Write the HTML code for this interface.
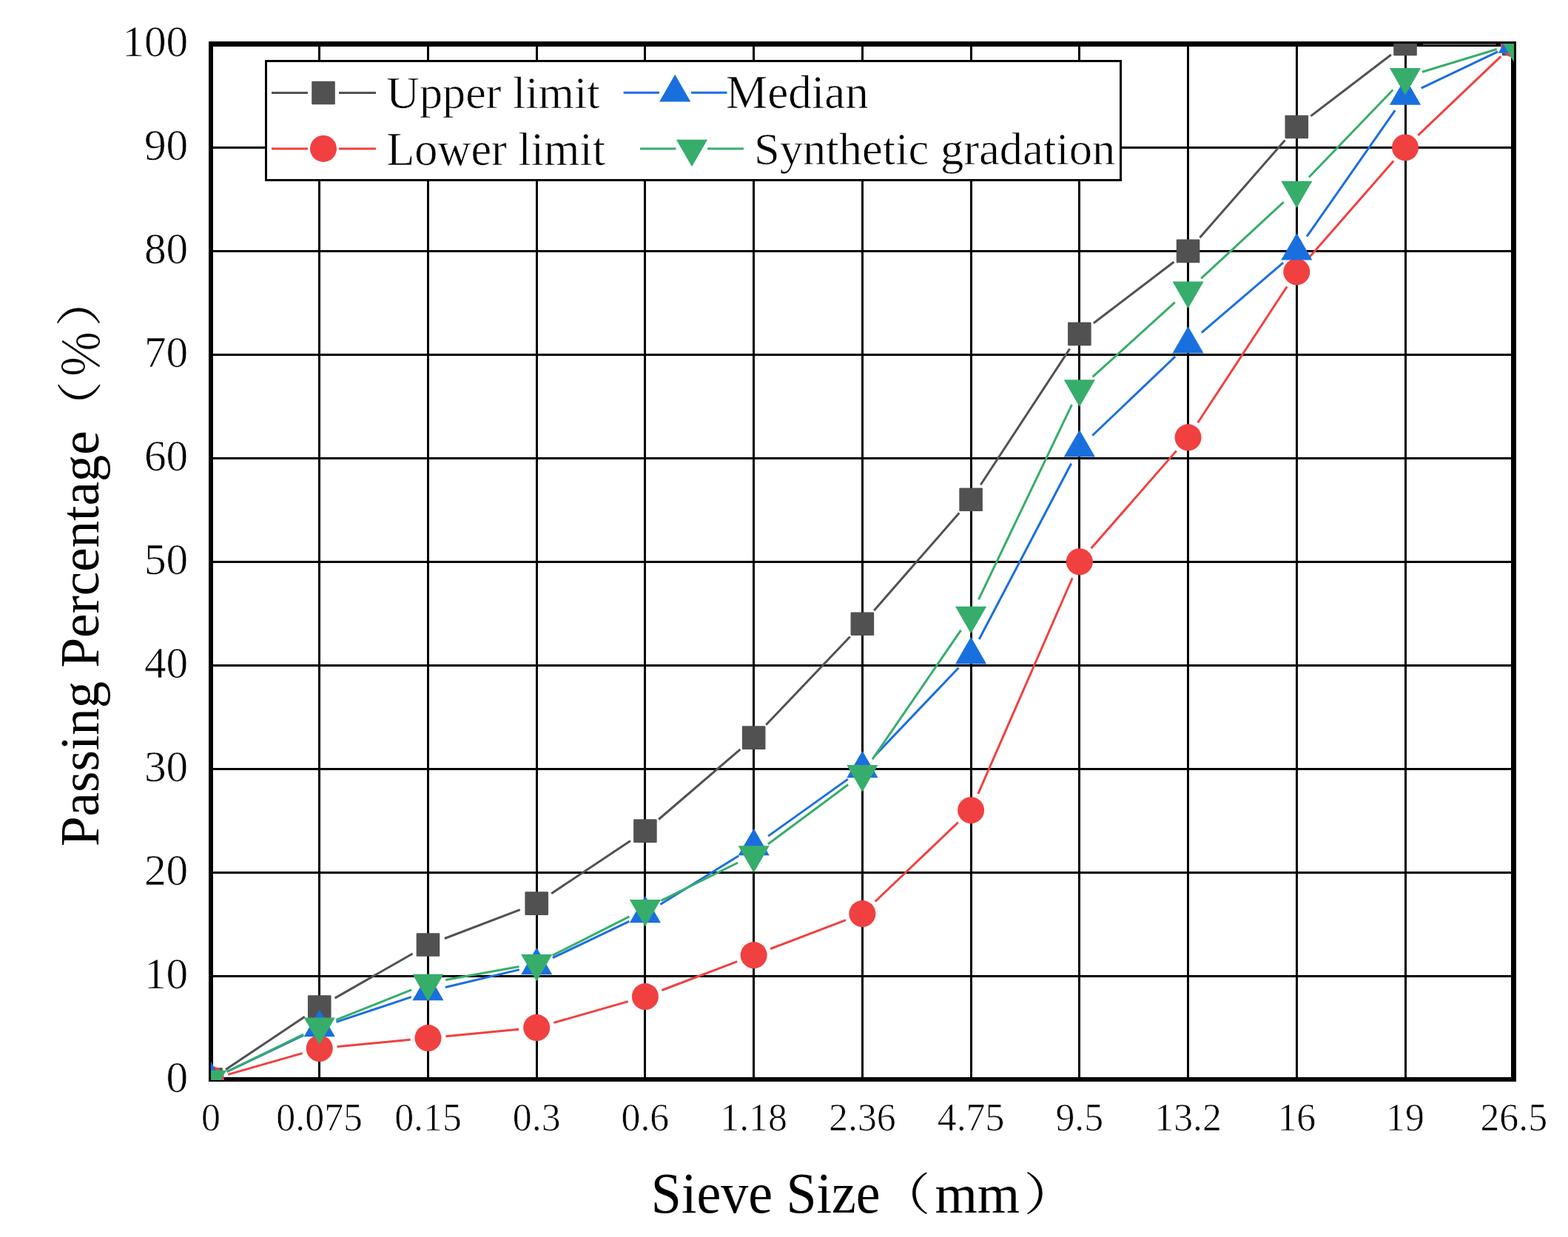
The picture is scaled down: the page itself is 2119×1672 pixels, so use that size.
<!DOCTYPE html>
<html><head><meta charset="utf-8"><title>Gradation curve</title>
<style>html,body{margin:0;padding:0;background:#fff;}svg{display:block;}</style></head>
<body>
<svg width="2119" height="1672" viewBox="0 0 2119 1672">
<defs><clipPath id="pc"><rect x="285" y="59" width="1761" height="1401"/></clipPath></defs>
<rect width="2119" height="1672" fill="#fff"/>
<g fill="#000" shape-rendering="crispEdges"><rect x="430" y="62" width="3" height="1395"/>
<rect x="577" y="62" width="3" height="1395"/>
<rect x="724" y="62" width="3" height="1395"/>
<rect x="870" y="62" width="3" height="1395"/>
<rect x="1017" y="62" width="3" height="1395"/>
<rect x="1164" y="62" width="3" height="1395"/>
<rect x="1311" y="62" width="3" height="1395"/>
<rect x="1457" y="62" width="3" height="1395"/>
<rect x="1604" y="62" width="3" height="1395"/>
<rect x="1751" y="62" width="3" height="1395"/>
<rect x="1898" y="62" width="3" height="1395"/>
<rect x="287" y="1318" width="1756" height="3"/>
<rect x="287" y="1178" width="1756" height="3"/>
<rect x="287" y="1038" width="1756" height="3"/>
<rect x="287" y="898" width="1756" height="3"/>
<rect x="287" y="758" width="1756" height="3"/>
<rect x="287" y="618" width="1756" height="3"/>
<rect x="287" y="478" width="1756" height="3"/>
<rect x="287" y="338" width="1756" height="3"/>
<rect x="287" y="198" width="1756" height="3"/></g>
<g fill="#000" shape-rendering="crispEdges"><rect x="282" y="56" width="6" height="1406"/><rect x="282" y="56" width="1767" height="7"/><rect x="2042" y="56" width="7" height="1406"/><rect x="282" y="1456" width="1767" height="6"/></g>
<g clip-path="url(#pc)"><line x1="304.96" y1="1445.67" x2="411.77" y2="1374.36" stroke="#515151" stroke-width="3"/>
<line x1="452.56" y1="1349.11" x2="557.63" y2="1288.99" stroke="#515151" stroke-width="3"/>
<line x1="600.88" y1="1268.51" x2="702.77" y2="1229.64" stroke="#515151" stroke-width="3"/>
<line x1="745.15" y1="1207.76" x2="851.96" y2="1136.45" stroke="#515151" stroke-width="3"/>
<line x1="890.13" y1="1107.49" x2="1000.44" y2="1012.80" stroke="#515151" stroke-width="3"/>
<line x1="1035.21" y1="979.79" x2="1148.82" y2="860.59" stroke="#515151" stroke-width="3"/>
<line x1="1181.17" y1="825.15" x2="1296.32" y2="693.35" stroke="#515151" stroke-width="3"/>
<line x1="1325.26" y1="655.21" x2="1445.69" y2="471.43" stroke="#515151" stroke-width="3"/>
<line x1="1477.92" y1="436.80" x2="1586.49" y2="353.96" stroke="#515151" stroke-width="3"/>
<line x1="1621.36" y1="321.33" x2="1736.51" y2="189.53" stroke="#515151" stroke-width="3"/>
<line x1="1771.38" y1="156.90" x2="1879.95" y2="74.06" stroke="#515151" stroke-width="3"/>
<line x1="1923.03" y1="59.50" x2="2021.76" y2="59.50" stroke="#515151" stroke-width="3"/>
<line x1="308.07" y1="1452.40" x2="408.66" y2="1423.62" stroke="#F14040" stroke-width="3"/>
<line x1="455.62" y1="1414.74" x2="554.57" y2="1405.30" stroke="#F14040" stroke-width="3"/>
<line x1="602.35" y1="1400.74" x2="701.30" y2="1391.30" stroke="#F14040" stroke-width="3"/>
<line x1="748.26" y1="1382.42" x2="848.85" y2="1353.64" stroke="#F14040" stroke-width="3"/>
<line x1="894.34" y1="1338.49" x2="996.23" y2="1299.61" stroke="#F14040" stroke-width="3"/>
<line x1="1041.07" y1="1282.51" x2="1142.96" y2="1243.63" stroke="#F14040" stroke-width="3"/>
<line x1="1182.75" y1="1218.52" x2="1294.74" y2="1111.69" stroke="#F14040" stroke-width="3"/>
<line x1="1321.72" y1="1073.14" x2="1449.23" y2="781.24" stroke="#F14040" stroke-width="3"/>
<line x1="1474.63" y1="741.18" x2="1589.78" y2="609.38" stroke="#F14040" stroke-width="3"/>
<line x1="1618.72" y1="571.24" x2="1739.15" y2="387.46" stroke="#F14040" stroke-width="3"/>
<line x1="1768.09" y1="349.32" x2="1883.24" y2="217.52" stroke="#F14040" stroke-width="3"/>
<line x1="1916.40" y1="182.89" x2="2028.39" y2="76.06" stroke="#F14040" stroke-width="3"/>
<line x1="306.66" y1="1448.67" x2="410.07" y2="1399.36" stroke="#1A6FDF" stroke-width="3"/>
<line x1="454.50" y1="1381.43" x2="555.69" y2="1347.64" stroke="#1A6FDF" stroke-width="3"/>
<line x1="601.81" y1="1334.48" x2="701.84" y2="1310.62" stroke="#1A6FDF" stroke-width="3"/>
<line x1="746.85" y1="1294.72" x2="850.26" y2="1245.41" stroke="#1A6FDF" stroke-width="3"/>
<line x1="892.32" y1="1222.43" x2="998.25" y2="1156.76" stroke="#1A6FDF" stroke-width="3"/>
<line x1="1038.17" y1="1130.15" x2="1145.86" y2="1053.11" stroke="#1A6FDF" stroke-width="3"/>
<line x1="1181.94" y1="1021.78" x2="1295.55" y2="902.58" stroke="#1A6FDF" stroke-width="3"/>
<line x1="1323.25" y1="863.95" x2="1447.70" y2="626.56" stroke="#1A6FDF" stroke-width="3"/>
<line x1="1476.21" y1="588.74" x2="1588.20" y2="481.92" stroke="#1A6FDF" stroke-width="3"/>
<line x1="1623.78" y1="449.72" x2="1734.09" y2="355.03" stroke="#1A6FDF" stroke-width="3"/>
<line x1="1766.05" y1="319.73" x2="1885.28" y2="149.15" stroke="#1A6FDF" stroke-width="3"/>
<line x1="1920.69" y1="119.14" x2="2024.10" y2="69.83" stroke="#1A6FDF" stroke-width="3"/>
<line x1="306.58" y1="1448.50" x2="410.15" y2="1398.12" stroke="#37AD6B" stroke-width="3"/>
<line x1="454.01" y1="1378.70" x2="556.18" y2="1337.77" stroke="#37AD6B" stroke-width="3"/>
<line x1="602.08" y1="1324.57" x2="701.57" y2="1306.54" stroke="#37AD6B" stroke-width="3"/>
<line x1="746.61" y1="1291.43" x2="850.50" y2="1238.91" stroke="#37AD6B" stroke-width="3"/>
<line x1="893.42" y1="1217.42" x2="997.15" y2="1165.97" stroke="#37AD6B" stroke-width="3"/>
<line x1="1037.91" y1="1140.98" x2="1146.12" y2="1060.47" stroke="#37AD6B" stroke-width="3"/>
<line x1="1178.95" y1="1026.35" x2="1298.54" y2="851.82" stroke="#37AD6B" stroke-width="3"/>
<line x1="1322.47" y1="810.38" x2="1448.48" y2="547.18" stroke="#37AD6B" stroke-width="3"/>
<line x1="1476.62" y1="509.42" x2="1587.79" y2="408.70" stroke="#37AD6B" stroke-width="3"/>
<line x1="1623.19" y1="376.28" x2="1734.68" y2="273.13" stroke="#37AD6B" stroke-width="3"/>
<line x1="1768.94" y1="239.53" x2="1882.39" y2="121.58" stroke="#37AD6B" stroke-width="3"/>
<line x1="1921.98" y1="97.28" x2="2022.81" y2="66.51" stroke="#37AD6B" stroke-width="3"/>
<rect x="269.20" y="1443.20" width="31.6" height="31.6" rx="1.2" fill="#515151"/>
<rect x="415.93" y="1345.24" width="31.6" height="31.6" rx="1.2" fill="#515151"/>
<rect x="562.66" y="1261.27" width="31.6" height="31.6" rx="1.2" fill="#515151"/>
<rect x="709.39" y="1205.29" width="31.6" height="31.6" rx="1.2" fill="#515151"/>
<rect x="856.12" y="1107.32" width="31.6" height="31.6" rx="1.2" fill="#515151"/>
<rect x="1002.85" y="981.37" width="31.6" height="31.6" rx="1.2" fill="#515151"/>
<rect x="1149.58" y="827.42" width="31.6" height="31.6" rx="1.2" fill="#515151"/>
<rect x="1296.31" y="659.48" width="31.6" height="31.6" rx="1.2" fill="#515151"/>
<rect x="1443.04" y="435.56" width="31.6" height="31.6" rx="1.2" fill="#515151"/>
<rect x="1589.77" y="323.60" width="31.6" height="31.6" rx="1.2" fill="#515151"/>
<rect x="1736.50" y="155.66" width="31.6" height="31.6" rx="1.2" fill="#515151"/>
<rect x="1883.23" y="43.70" width="31.6" height="31.6" rx="1.2" fill="#515151"/>
<rect x="2029.96" y="43.70" width="31.6" height="31.6" rx="1.2" fill="#515151"/>
<circle cx="285.00" cy="1459.00" r="18" fill="#F14040"/>
<circle cx="431.73" cy="1417.02" r="18" fill="#F14040"/>
<circle cx="578.46" cy="1403.02" r="18" fill="#F14040"/>
<circle cx="725.19" cy="1389.03" r="18" fill="#F14040"/>
<circle cx="871.92" cy="1347.04" r="18" fill="#F14040"/>
<circle cx="1018.65" cy="1291.06" r="18" fill="#F14040"/>
<circle cx="1165.38" cy="1235.08" r="18" fill="#F14040"/>
<circle cx="1312.11" cy="1095.13" r="18" fill="#F14040"/>
<circle cx="1458.84" cy="759.25" r="18" fill="#F14040"/>
<circle cx="1605.57" cy="591.31" r="18" fill="#F14040"/>
<circle cx="1752.30" cy="367.39" r="18" fill="#F14040"/>
<circle cx="1899.03" cy="199.45" r="18" fill="#F14040"/>
<circle cx="2045.76" cy="59.50" r="18" fill="#F14040"/>
<polygon points="285.00,1434.64 306.10,1471.18 263.90,1471.18" fill="#1A6FDF"/>
<polygon points="431.73,1364.66 452.83,1401.21 410.63,1401.21" fill="#1A6FDF"/>
<polygon points="578.46,1315.68 599.56,1352.22 557.36,1352.22" fill="#1A6FDF"/>
<polygon points="725.19,1280.69 746.29,1317.24 704.09,1317.24" fill="#1A6FDF"/>
<polygon points="871.92,1210.72 893.02,1247.26 850.82,1247.26" fill="#1A6FDF"/>
<polygon points="1018.65,1119.75 1039.75,1156.29 997.55,1156.29" fill="#1A6FDF"/>
<polygon points="1165.38,1014.79 1186.48,1051.33 1144.28,1051.33" fill="#1A6FDF"/>
<polygon points="1312.11,860.84 1333.21,897.39 1291.01,897.39" fill="#1A6FDF"/>
<polygon points="1458.84,580.94 1479.94,617.49 1437.74,617.49" fill="#1A6FDF"/>
<polygon points="1605.57,440.99 1626.67,477.54 1584.47,477.54" fill="#1A6FDF"/>
<polygon points="1752.30,315.04 1773.40,351.58 1731.20,351.58" fill="#1A6FDF"/>
<polygon points="1899.03,105.11 1920.13,141.66 1877.93,141.66" fill="#1A6FDF"/>
<polygon points="2045.76,35.14 2066.86,71.68 2024.66,71.68" fill="#1A6FDF"/>
<polygon points="285.00,1483.36 306.10,1446.82 263.90,1446.82" fill="#37AD6B"/>
<polygon points="431.73,1411.99 452.83,1375.44 410.63,1375.44" fill="#37AD6B"/>
<polygon points="578.46,1353.21 599.56,1316.66 557.36,1316.66" fill="#37AD6B"/>
<polygon points="725.19,1326.62 746.29,1290.07 704.09,1290.07" fill="#37AD6B"/>
<polygon points="871.92,1252.45 893.02,1215.90 850.82,1215.90" fill="#37AD6B"/>
<polygon points="1018.65,1179.67 1039.75,1143.13 997.55,1143.13" fill="#37AD6B"/>
<polygon points="1165.38,1070.51 1186.48,1033.97 1144.28,1033.97" fill="#37AD6B"/>
<polygon points="1312.11,856.39 1333.21,819.84 1291.01,819.84" fill="#37AD6B"/>
<polygon points="1458.84,549.90 1479.94,513.35 1437.74,513.35" fill="#37AD6B"/>
<polygon points="1605.57,416.95 1626.67,380.40 1584.47,380.40" fill="#37AD6B"/>
<polygon points="1752.30,281.19 1773.40,244.65 1731.20,244.65" fill="#37AD6B"/>
<polygon points="1899.03,128.65 1920.13,92.10 1877.93,92.10" fill="#37AD6B"/>
<polygon points="2045.76,83.86 2066.86,47.32 2024.66,47.32" fill="#37AD6B"/></g>
<g shape-rendering="crispEdges"><rect x="358" y="81" width="1158" height="164" fill="#000"/><rect x="361" y="84" width="1152" height="158" fill="#fff"/></g>
<line x1="367" y1="125.5" x2="416" y2="125.5" stroke="#515151" stroke-width="3"/><line x1="458" y1="125.5" x2="508" y2="125.5" stroke="#515151" stroke-width="3"/>
<rect x="421.20" y="109.70" width="31.6" height="31.6" rx="1.2" fill="#515151"/>
<line x1="367" y1="200.9" x2="416" y2="200.9" stroke="#F14040" stroke-width="3"/><line x1="458" y1="200.9" x2="508" y2="200.9" stroke="#F14040" stroke-width="3"/>
<circle cx="437.00" cy="200.90" r="18" fill="#F14040"/>
<line x1="842.6" y1="125.2" x2="891" y2="125.2" stroke="#1A6FDF" stroke-width="3"/><line x1="934" y1="125.2" x2="982.5" y2="125.2" stroke="#1A6FDF" stroke-width="3"/>
<polygon points="912.20,100.84 933.30,137.38 891.10,137.38" fill="#1A6FDF"/>
<line x1="865" y1="200.9" x2="913.5" y2="200.9" stroke="#37AD6B" stroke-width="3"/><line x1="956" y1="200.9" x2="1005" y2="200.9" stroke="#37AD6B" stroke-width="3"/>
<polygon points="935.00,225.26 956.10,188.72 913.90,188.72" fill="#37AD6B"/>
<g fill="#000" stroke="#fff" stroke-width="0.7"><text transform="translate(522.06,145.56) scale(1.0062,1)" font-family="Liberation Serif, 'Times New Roman', serif" font-size="61.82">Upper limit</text>
<text transform="translate(522.23,222.57) scale(0.9963,1)" font-family="Liberation Serif, 'Times New Roman', serif" font-size="62.55">Lower limit</text>
<text transform="translate(981.01,146.37) scale(1.0051,1)" font-family="Liberation Serif, 'Times New Roman', serif" font-size="62.84">Median</text>
<text transform="translate(1018.98,221.79) scale(1.0187,1)" font-family="Liberation Serif, 'Times New Roman', serif" font-size="61.43">Synthetic gradation</text>
<g font-family="Liberation Serif, 'Times New Roman', serif" font-size="59.3"><text x="254.2" y="1475.7" text-anchor="end">0</text><text x="254.2" y="1335.8" text-anchor="end">10</text><text x="254.2" y="1195.8" text-anchor="end">20</text><text x="254.2" y="1055.9" text-anchor="end">30</text><text x="254.2" y="915.9" text-anchor="end">40</text><text x="254.2" y="776.0" text-anchor="end">50</text><text x="254.2" y="636.0" text-anchor="end">60</text><text x="254.2" y="496.1" text-anchor="end">70</text><text x="254.2" y="356.1" text-anchor="end">80</text><text x="254.2" y="216.2" text-anchor="end">90</text><text x="254.2" y="76.2" text-anchor="end">100</text></g>
<g font-family="Liberation Serif, 'Times New Roman', serif" font-size="51.85"><text x="285.0" y="1528.3" text-anchor="middle">0</text><text x="431.7" y="1528.3" text-anchor="middle">0.075</text><text x="578.5" y="1528.3" text-anchor="middle">0.15</text><text x="725.2" y="1528.3" text-anchor="middle">0.3</text><text x="871.9" y="1528.3" text-anchor="middle">0.6</text><text x="1018.6" y="1528.3" text-anchor="middle">1.18</text><text x="1165.4" y="1528.3" text-anchor="middle">2.36</text><text x="1312.1" y="1528.3" text-anchor="middle">4.75</text><text x="1458.8" y="1528.3" text-anchor="middle">9.5</text><text x="1605.6" y="1528.3" text-anchor="middle">13.2</text><text x="1752.3" y="1528.3" text-anchor="middle">16</text><text x="1899.0" y="1528.3" text-anchor="middle">19</text><text x="2045.8" y="1528.3" text-anchor="middle">26.5</text></g></g>
<g fill="#000"><text transform="translate(879.81,1639.22) scale(0.9522,1)" font-family="Liberation Serif, 'Times New Roman', serif" font-size="77.62">Sieve Size</text>
<text transform="translate(1187.78,1635.82) scale(1.1533,1)" font-family="'Liberation Serif', 'Noto Serif CJK SC', serif" font-size="60.32">（</text>
<text transform="translate(1263.43,1638.90) scale(1.0076,1)" font-family="Liberation Serif, 'Times New Roman', serif" font-size="73.19">mm</text>
<text transform="translate(1383.23,1635.74) scale(1.1919,1)" font-family="'Liberation Serif', 'Noto Serif CJK SC', serif" font-size="61.28">）</text>
<text transform="translate(133.03,1143.99) rotate(-90) scale(0.9830,1)" font-family="Liberation Serif, 'Times New Roman', serif" font-size="74.30">Passing Percentage</text>
<text transform="translate(129.83,586.12) rotate(-90) scale(1.1558,1)" font-family="'Liberation Serif', 'Noto Serif CJK SC', serif" font-size="61.39">（</text>
<text transform="translate(133.82,512.15) rotate(-90) scale(0.9792,1)" font-family="'Liberation Serif', 'Noto Serif CJK SC', serif" font-size="69.04">％</text>
<text transform="translate(129.77,441.67) rotate(-90) scale(1.1775,1)" font-family="'Liberation Serif', 'Noto Serif CJK SC', serif" font-size="62.03">）</text></g>
</svg>
</body></html>
